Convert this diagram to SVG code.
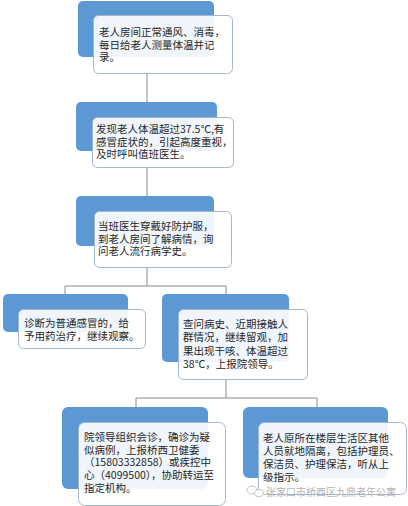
<svg xmlns="http://www.w3.org/2000/svg" width="408" height="506" viewBox="0 0 408 506">
<style>
.bg{fill:#5b98d4;}
.card{fill:#ffffff;fill-opacity:0.9;stroke:#a3b6cc;stroke-width:1;}
.t{font-family:"Noto Sans CJK SC","Noto Sans",sans-serif;font-size:10.5px;fill:#262626;}
.wm{font-family:"Noto Sans CJK SC","Noto Sans",sans-serif;font-size:10px;fill:#b4b4b4;}
.c{fill:none;stroke:#8a8a8a;stroke-width:1;}
</style>
<rect width="408" height="506" fill="#ffffff"/>
<g id="connectors">
<path class="c" d="M147,73 V102"/>
<path class="c" d="M147,167 V196"/>
<path class="c" d="M147,267 V286 M65,295 V286 H226 V295"/>
<path class="c" d="M226,379 V398 M136,407 V398 H317 V407"/>
</g>
<g id="n1">
<rect class="bg" x="78" y="1" width="136" height="56" rx="5"/>
<rect class="card" x="93.500" y="15.500" width="139" height="58" rx="5"/>
<text class="t"><tspan x="99" y="36">老人房间正常通风、消毒，</tspan><tspan x="99" y="48.500">每日给老人测量体温并记</tspan><tspan x="99" y="61">录。</tspan></text>
</g>
<g id="n2">
<rect class="bg" x="76" y="102" width="141" height="49" rx="5"/>
<rect class="card" x="92.500" y="117.500" width="141" height="50" rx="5"/>
<text class="t"><tspan x="96" y="133">发现老人体温超过37.5℃,有</tspan><tspan x="96" y="145.500">感冒症状的，引起高度重视，</tspan><tspan x="96" y="158">及时呼叫值班医生。</tspan></text>
</g>
<g id="n3">
<rect class="bg" x="76" y="196" width="138" height="50" rx="5"/>
<rect class="card" x="94.500" y="211.500" width="137" height="56" rx="5"/>
<text class="t"><tspan x="98" y="230">当班医生穿戴好防护服，</tspan><tspan x="98" y="242.500">到老人房间了解病情，询</tspan><tspan x="98" y="255">问老人流行病学史。</tspan></text>
</g>
<g id="n4">
<rect class="bg" x="3" y="294" width="125" height="38" rx="5"/>
<rect class="card" x="18.500" y="309.500" width="127" height="39" rx="5"/>
<text class="t"><tspan x="24" y="327">诊断为普通感冒的，给</tspan><tspan x="24" y="339.500">予用药治疗，继续观察。</tspan></text>
</g>
<g id="n5">
<rect class="bg" x="162" y="294" width="127" height="68" rx="5"/>
<rect class="card" x="178.500" y="309.500" width="129" height="70" rx="5"/>
<text class="t"><tspan x="183" y="328">查问病史、近期接触人</tspan><tspan x="183" y="341">群情况，继续留观，加</tspan><tspan x="183" y="354.500">果出现干咳、体温超过</tspan><tspan x="183" y="368">38℃，上报院领导。</tspan></text>
</g>
<g id="n6">
<rect class="bg" x="62" y="407" width="146" height="82" rx="6"/>
<rect class="card" x="78.500" y="422.500" width="147" height="83" rx="6"/>
<text class="t"><tspan x="84" y="441">院领导组织会诊，确诊为疑</tspan><tspan x="84" y="453.500">似病例，上报桥西卫健委</tspan><tspan x="84" y="466">（15803332858）或疾控中</tspan><tspan x="84" y="479">心（4099500），协助转运至</tspan><tspan x="84" y="491.500">指定机构。</tspan></text>
</g>
<g id="n7">
<rect class="bg" x="243" y="407" width="145" height="71" rx="6"/>
<rect class="card" x="258.500" y="422.500" width="148" height="72" rx="6"/>
<text class="t"><tspan x="263" y="442">老人原所在楼层生活区其他</tspan><tspan x="263" y="455">人员就地隔离，包括护理员、</tspan><tspan x="263" y="468">保洁员、护理保洁，听从上</tspan><tspan x="263" y="481">级指示。</tspan></text>
</g>
<g id="watermark">
<ellipse cx="252" cy="490" rx="5" ry="4" fill="none" stroke="#c4c4c4" stroke-width="1"/>
<ellipse cx="259" cy="493" rx="4.500" ry="3.500" fill="#ffffff" stroke="#c4c4c4" stroke-width="1"/>
<text class="wm" x="266" y="496">张家口市桥西区九鼎老年公寓</text>
</g>
</svg>
